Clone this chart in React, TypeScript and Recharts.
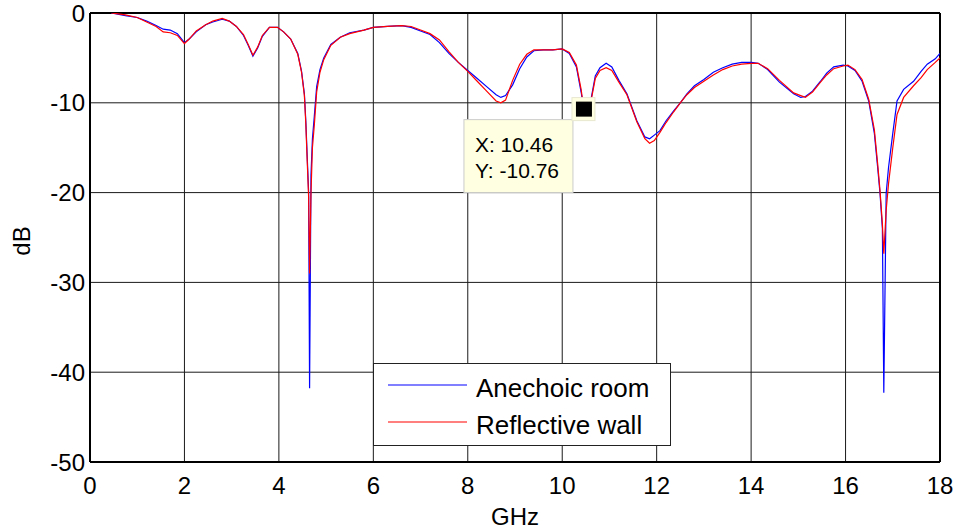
import React from 'react';
import { LineChart, Line, XAxis, YAxis, CartesianGrid, ReferenceLine, ReferenceDot, Legend } from 'recharts';

const freq = [
  0.45, 0.75, 1.0, 1.2, 1.4, 1.55, 1.7, 1.85, 2.0, 2.1, 2.25, 2.45, 2.6, 2.8, 2.95, 3.1, 3.25, 3.35, 3.45, 3.55, 3.65, 3.8, 3.97,
  4.1, 4.25, 4.4, 4.48, 4.54, 4.57, 4.6, 4.63, 4.65, 4.68, 4.71, 4.75, 4.8, 4.87, 4.95, 5.1, 5.3, 5.5, 5.8, 6.0, 6.3, 6.6, 6.8,
  7.0, 7.2, 7.4, 7.6, 7.8, 8.0, 8.2, 8.4, 8.6, 8.7, 8.8, 8.95, 9.1, 9.25, 9.4, 9.6, 9.8, 10.0, 10.15, 10.3, 10.4, 10.46, 10.55,
  10.62, 10.7, 10.8, 10.93, 11.05, 11.2, 11.37, 11.58, 11.75, 11.85, 11.95, 12.07, 12.2, 12.36, 12.5, 12.64, 12.8, 13.0, 13.2,
  13.4, 13.6, 13.8, 14.0, 14.15, 14.35, 14.6, 14.9, 15.05, 15.15, 15.3, 15.47, 15.6, 15.75, 15.95, 16.05, 16.2, 16.35, 16.49,
  16.61, 16.68, 16.73, 16.78, 16.81, 16.86, 16.91, 17.0, 17.09, 17.23, 17.44, 17.6, 17.73, 17.9, 18.0,
];

const anechoic = [
  0, -0.3, -0.5, -0.9, -1.4, -1.8, -1.9, -2.3, -3.3, -2.9, -2.1, -1.3, -1.0, -0.7, -0.9, -1.5, -2.5, -3.6, -4.8, -3.9, -2.6, -1.6, -1.6,
  -2.1, -2.9, -4.5, -6.5, -9.0, -12.0, -16.0, -20.0, -41.8, -18.0, -14.0, -11.5, -8.2, -6.3, -5.0, -3.5, -2.7, -2.2, -1.9, -1.6, -1.5, -1.4, -1.6,
  -2.0, -2.4, -3.3, -4.5, -5.5, -6.4, -7.3, -8.2, -9.1, -9.4, -9.2, -8.0, -6.2, -4.9, -4.2, -4.1, -4.1, -4.0, -4.5, -6.0, -8.8, -10.76, -11.0,
  -9.3, -7.0, -6.1, -5.6, -6.0, -7.5, -9.0, -12.0, -13.8, -14.0, -13.6, -13.1, -12.0, -10.9, -10.0, -9.0, -8.1, -7.4, -6.6,
  -6.1, -5.7, -5.5, -5.5, -5.6, -6.3, -7.7, -9.0, -9.4, -9.3, -8.7, -7.6, -6.7, -6.0, -5.8, -5.9, -6.4, -7.6, -9.8,
  -13.4, -17.2, -20.1, -24.0, -42.3, -20.1, -17.2, -13.4, -9.8, -8.5, -7.6, -6.5, -5.7, -5.1, -4.5,
];

const reflective = [
  0, -0.2, -0.5, -1.0, -1.5, -2.1, -2.2, -2.5, -3.4, -2.9, -2.0, -1.3, -0.9, -0.6, -0.9, -1.5, -2.4, -3.5, -4.7, -3.8, -2.5, -1.6, -1.6,
  -2.1, -2.9, -4.6, -6.6, -9.2, -12.3, -16.5, -20.5, -29.0, -20.0, -15.0, -12.5, -8.8, -6.6, -5.2, -3.6, -2.7, -2.3, -1.9, -1.6, -1.5, -1.4, -1.5,
  -1.9, -2.3, -3.0, -4.3, -5.5, -6.5, -7.6, -8.7, -9.8, -10.0, -9.7, -7.5, -5.7, -4.6, -4.1, -4.1, -4.1, -4.0, -4.4, -5.8, -8.5, -10.8, -11.2,
  -9.5, -7.3, -6.4, -6.1, -6.4, -7.7, -9.1, -12.1, -14.0, -14.5, -14.2, -13.3, -12.2, -11.0, -10.0, -9.1, -8.3, -7.6, -6.9,
  -6.3, -5.9, -5.7, -5.6, -5.6, -6.2, -7.5, -8.9, -9.2, -9.4, -8.8, -7.7, -6.9, -6.2, -5.9, -5.8, -6.3, -7.4, -9.6,
  -13.0, -16.8, -19.8, -23.5, -26.8, -22.0, -19.0, -15.0, -11.3, -9.4, -8.1, -7.2, -6.3, -5.5, -5.0,
];

const xTicks = [0, 2, 4, 6, 8, 10, 12, 14, 16, 18];
const yTicks = [0, -10, -20, -30, -40, -50];
const markerX = 10.46;
const markerY = -10.76;
const seriesNames = ['Anechoic room', 'Reflective wall'];
const xLabel = 'GHz';
const yLabel = 'dB';

const data = freq.map((f, i) => ({ f, a: anechoic[i], r: reflective[i] }));

const FONT = '"Liberation Sans", Arial, sans-serif';

const DataTip = (props: any) => {
  const { cx, cy } = props;
  if (cx == null || cy == null) return null;
  return (
    <g>
      <rect x={cx - 120} y={cy + 10} width={109} height={73} fill="#ffffe1" stroke="#cccccc" strokeWidth={1} />
      <text x={cx - 109} y={cy + 42} fontSize={21} fontFamily={FONT} fill="#000">{`X: ${markerX}`}</text>
      <text x={cx - 109} y={cy + 68} fontSize={21} fontFamily={FONT} fill="#000">{`Y: ${markerY}`}</text>
      <rect x={cx - 12} y={cy - 12} width={23} height={23} fill="#ffffe1" stroke="#e8e8d0" strokeWidth={1} />
      <rect x={cx - 8} y={cy - 8} width={16} height={15} fill="#000" />
    </g>
  );
};

const LegendBox = (props: any) => {
  const payload = props.payload || [];
  return (
    <svg width={299} height={83} style={{ display: 'block' }}>
      <rect x={0.5} y={0.5} width={297} height={82} fill="#fff" stroke="#222" strokeWidth={1} />
      {payload.map((p: any, i: number) => (
        <g key={i}>
          <line x1={15} x2={94} y1={22 + i * 37} y2={22 + i * 37} stroke={p.color} strokeWidth={1.2} />
          <text x={103} y={34 + i * 37} fontSize={26} fontFamily={FONT} fill="#000">{p.value}</text>
        </g>
      ))}
    </svg>
  );
};

const YLabel = () => (
  <text x={21} y={241} transform="rotate(-90 21 241)" textAnchor="middle" dominantBaseline="central" fontSize={24} fontFamily={FONT} fill="#000">
    {yLabel}
  </text>
);

export default function App() {
  return (
    <div style={{ position: 'absolute', left: 0, top: 0, width: 958, height: 531, background: '#fff' }}>
      <LineChart width={958} height={531} data={data} margin={{ top: 13, right: 18, left: 0, bottom: 0 }}>
        <CartesianGrid stroke="#1a1a1a" strokeWidth={1} horizontalValues={yTicks} verticalValues={xTicks} />
        <XAxis
          dataKey="f"
          type="number"
          domain={[0, 18]}
          ticks={xTicks}
          interval={0}
          height={69}
          tickSize={0}
          tickMargin={15}
          tick={{ fontSize: 24, fontFamily: FONT, fill: '#000' }}
          axisLine={{ stroke: '#000', strokeWidth: 2 }}
          allowDataOverflow
          label={{ value: xLabel, position: 'insideBottom', offset: 6, fontSize: 24, fontFamily: FONT, fill: '#000' }}
        />
        <YAxis
          type="number"
          domain={[-50, 0]}
          ticks={yTicks}
          interval={0}
          width={90}
          tickSize={0}
          tickMargin={5}
          tick={{ fontSize: 24, fontFamily: FONT, fill: '#000' }}
          axisLine={{ stroke: '#000', strokeWidth: 2 }}
          allowDataOverflow
          label={<YLabel />}
        />
        <ReferenceLine y={0} stroke="#000" strokeWidth={2} />
        <ReferenceLine x={18} stroke="#000" strokeWidth={2} />
        <Line type="linear" dataKey="a" name={seriesNames[0]} stroke="#0000ff" strokeWidth={1.2} dot={false} activeDot={false} isAnimationActive={false} />
        <Line type="linear" dataKey="r" name={seriesNames[1]} stroke="#ff0000" strokeWidth={1.2} dot={false} activeDot={false} isAnimationActive={false} />
        <ReferenceDot x={markerX} y={markerY} shape={<DataTip />} />
        <Legend
          layout="horizontal"
          verticalAlign="middle"
          align="center"
          wrapperStyle={{ left: 373, top: 363, width: 299, height: 83 }}
          content={<LegendBox />}
        />
      </LineChart>
    </div>
  );
}
